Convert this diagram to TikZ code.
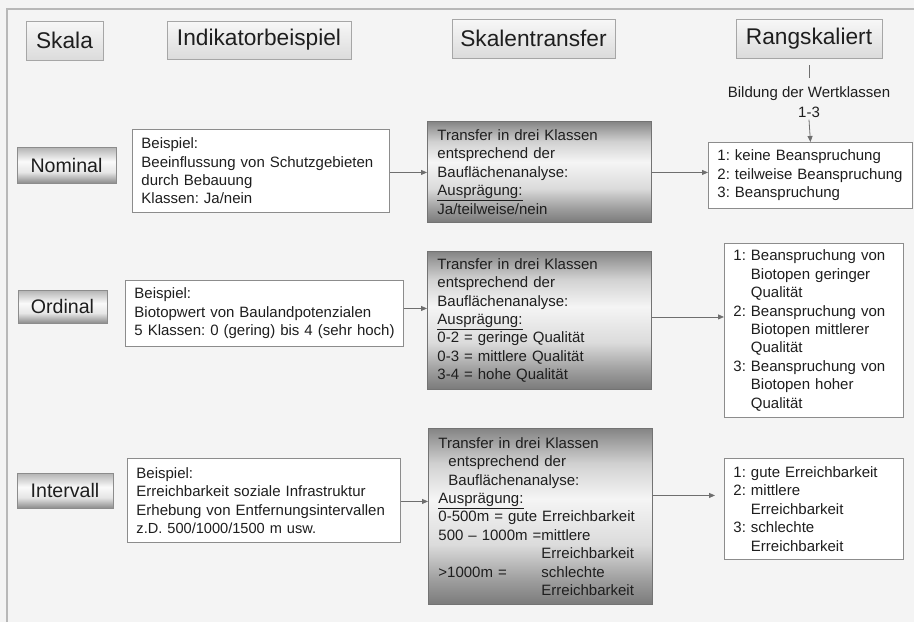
\documentclass[tikz,border=0pt]{standalone}
\usepackage{fontspec}
\setmainfont{Liberation Sans}
\usetikzlibrary{arrows.meta}
\frenchspacing

\definecolor{bg}{HTML}{F4F4F4}
\definecolor{framecol}{HTML}{B8B8B8}
\definecolor{ink}{HTML}{1E1E1E}
\definecolor{linecol}{HTML}{6E6E6E}
\definecolor{boxline}{HTML}{8C8C8C}

% vertical shadings: 25bp = lower edge, 75bp = upper edge of the filled box
\pgfdeclareverticalshading{trshade}{100bp}{%
  color(0bp)=(black!52); color(25bp)=(black!52); color(32bp)=(black!38);
  color(42bp)=(black!14); color(55bp)=(black!4); color(65bp)=(black!18);
  color(75bp)=(black!48); color(100bp)=(black!48)}
\pgfdeclareverticalshading{scaleshade}{100bp}{%
  color(0bp)=(black!45); color(25bp)=(black!45); color(40bp)=(black!10);
  color(55bp)=(black!2); color(75bp)=(black!30); color(100bp)=(black!30)}
\pgfdeclareverticalshading{hdrshade}{100bp}{%
  color(0bp)=(black!14); color(25bp)=(black!14); color(75bp)=(black!3);
  color(100bp)=(black!3)}

\tikzset{
  hdr/.style={draw=black!35, line width=0.9pt, shading=hdrshade, text=ink,
    font=\fontsize{22.7}{26}\selectfont, inner sep=0pt},
  scalebox/.style={draw=black!45, line width=0.9pt, shading=scaleshade, text=ink,
    font=\fontsize{19.6}{22}\selectfont, inner sep=0pt},
  txtbox/.style={draw=boxline, line width=0.9pt, fill=white, text=ink, align=left,
    anchor=north west, inner ysep=0pt, font=\fontsize{15}{18.4}\selectfont},
  trbox/.style={draw=black!55, line width=0.9pt, shading=trshade, text=ink, align=left,
    anchor=north west, inner ysep=0pt, font=\fontsize{15}{18.4}\selectfont},
  arr/.style={draw=linecol, line width=0.8pt,
    -{Triangle[length=6pt,width=5pt]}},
  frameline/.style={draw=framecol, line width=1.2pt}
}

% hanging indent after the class number, and the value column of the distance list
\newcommand{\ind}{\leavevmode\hphantom{1:}\ }
\newlength{\valcol}
\newcommand{\col}{\leavevmode\hspace*{\valcol}}
\newcommand{\lead}[1]{\leavevmode\makebox[\valcol][l]{#1}}

\begin{document}
\begin{tikzpicture}[x=1pt,y=-1pt]
  \useasboundingbox (0,0) rectangle (914,622);
  \fill[bg] (0,0) rectangle (914,622);
  \draw[frameline] (7,622) -- (7,9) -- (914,9);

  % column headers
  \node[hdr, minimum width=77, minimum height=39] (hSkala) at (64.5,40.5) {Skala};
  \node[hdr, minimum width=184, minimum height=38] (hIndik) at (259,40) {Indikatorbeispiel};
  \node[hdr, minimum width=163, minimum height=39] (hTrans) at (533.5,38.5) {Skalentransfer};
  \node[hdr, minimum width=146, minimum height=39] (hRang) at (809,38.5) {Rangskaliert};

  % note below the ranking header
  \node[align=center, text=ink, font=\fontsize{15}{20}\selectfont, inner sep=2pt]
    (wk) at (809,102) {Bildung der Wertklassen\\1-3};

  % scale labels
  \node[scalebox, minimum width=99, minimum height=36] (sNom) at (66.5,165) {Nominal};
  \node[scalebox, minimum width=89, minimum height=33] (sOrd) at (62.5,306.5) {Ordinal};
  \node[scalebox, minimum width=96, minimum height=35] (sInt) at (65,490.5) {Intervall};

  % indicator examples
  \node[txtbox, inner xsep=9pt, text width=239, minimum height=83] (inNom) at (132,129)
    {Beispiel:\\Beeinflussung von Schutzgebieten\\durch Bebauung\\Klassen: Ja/nein};
  \node[txtbox, inner xsep=9pt, text width=260, minimum height=66] (inOrd) at (125,280)
    {Beispiel:\\Biotopwert von Baulandpotenzialen\\\mbox{5 Klassen: 0 (gering) bis 4 (sehr hoch)}};
  \node[txtbox, inner xsep=9pt, text width=255, minimum height=84] (inInt) at (127,458)
    {Beispiel:\\Erreichbarkeit soziale Infrastruktur\\\mbox{Erhebung von Entfernungsintervallen}\\
     {\fontsize{14.6}{18.4}\selectfont z.D. 500/1000/1500 m usw.}};

  % scale transfer
  \node[trbox, inner xsep=10pt, text width=204, minimum height=101] (trNom) at (427,121)
    {Transfer in drei Klassen\\entsprechend der\\Bauflächenanalyse:\\
     \underline{Ausprägung:}\\Ja/teilweise/nein};
  \node[trbox, inner xsep=10pt, text width=204, minimum height=138] (trOrd) at (427,251)
    {Transfer in drei Klassen\\entsprechend der\\Bauflächenanalyse:\\
     \underline{Ausprägung:}\\0-2 = geringe Qualität\\0-3 = mittlere Qualität\\3-4 = hohe Qualität};
  \node[trbox, inner xsep=10pt, text width=204, minimum height=176] (trInt) at (428,428)
    {\settowidth{\valcol}{500 – 1000m =}%
     Transfer in drei Klassen\\
     \leavevmode\hspace*{10pt}entsprechend der\\
     \leavevmode\hspace*{10pt}Bauflächenanalyse:\\
     \underline{Ausprägung:}\\
     \mbox{0-500m = gute Erreichbarkeit}\\
     500 – 1000m =mittlere\\
     \col Erreichbarkeit\\
     \lead{>1000m =}schlechte\\
     \col Erreichbarkeit};

  % ranked classes
  \node[txtbox, inner xsep=9pt, text width=186, minimum height=66] (rNom) at (708,142)
    {1: keine Beanspruchung\\\mbox{2: teilweise Beanspruchung}\\3: Beanspruchung};
  \node[txtbox, inner xsep=9pt, text width=161, minimum height=174] (rOrd) at (724,243)
    {1: Beanspruchung von\\\ind Biotopen geringer\\\ind Qualität\\
     2: Beanspruchung von\\\ind Biotopen mittlerer\\\ind Qualität\\
     3: Beanspruchung von\\\ind Biotopen hoher\\\ind Qualität};
  \node[txtbox, inner xsep=9pt, text width=161, minimum height=101] (rInt) at (724,458)
    {1: gute Erreichbarkeit\\2: mittlere\\\ind Erreichbarkeit\\
     3: schlechte\\\ind Erreichbarkeit};

  % connectors
  \draw[draw=linecol, line width=0.8pt] ([yshift=-7pt]hRang.south) -- ++(0,13);
  \draw[arr] (wk.south) -- (rNom.north);

  \draw[arr] ([yshift=-1.5pt]inNom.east) -- ([yshift=-1.5pt]inNom.east -| trNom.west);
  \draw[arr] ([yshift=-0.5pt]trNom.east) -- ([yshift=-0.5pt]trNom.east -| rNom.west);

  \draw[arr] ([yshift=5pt]inOrd.east) -- ([yshift=5pt]inOrd.east -| trOrd.west);
  \draw[arr] ([yshift=3.5pt]trOrd.east) -- ([yshift=3.5pt]trOrd.east -| rOrd.west);

  \draw[arr] ([yshift=-1pt]inInt.east) -- ([yshift=-1pt]inInt.east -| trInt.west);
  \draw[arr, shorten >=9pt] ([yshift=21pt]trInt.east) -- ([yshift=21pt]trInt.east -| rInt.west);
\end{tikzpicture}
\end{document}
